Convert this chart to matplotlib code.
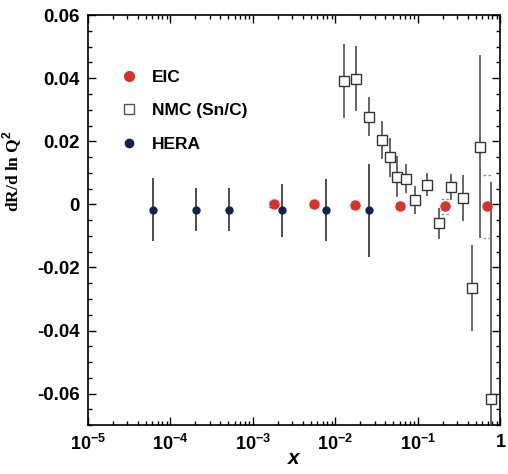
"""dR/d ln Q^2 vs x: EIC projection, NMC (Sn/C) and HERA points."""

import matplotlib

matplotlib.use("Agg")
import matplotlib.pyplot as plt  # noqa: E402
from matplotlib.lines import Line2D  # noqa: E402
from matplotlib.ticker import FixedLocator, LogLocator, MultipleLocator, NullFormatter  # noqa: E402

plt.rcParams["font.family"] = ["Liberation Sans", "DejaVu Sans"]
plt.rcParams["mathtext.fontset"] = "custom"
plt.rcParams["mathtext.rm"] = "Liberation Sans:bold"
plt.rcParams["mathtext.bf"] = "Liberation Sans:bold"

# EIC projection (values ~0, small errors)
eic_x = [1.78e-3, 5.5e-3, 1.73e-2, 6.1e-2, 0.215, 0.68]
eic_y = [0.0, 0.0, -0.0002, -0.0004, -0.0006, -0.0006]
eic_err = [0.0009, 0.0008, 0.0008, 0.0009, 0.0024, 0.010]

# NMC (Sn/C)
nmc_x = [0.0128, 0.0178, 0.0254, 0.0363, 0.0464, 0.0563, 0.0720, 0.0921,
         0.128, 0.178, 0.254, 0.353, 0.452, 0.562, 0.760]
nmc_y = [0.0392, 0.0398, 0.0278, 0.0205, 0.0149, 0.0088, 0.0082, 0.0013,
         0.0063, -0.0060, 0.0054, 0.0019, -0.0265, 0.0183, -0.0616]
nmc_err = [0.0118, 0.0103, 0.0062, 0.0060, 0.0063, 0.0065, 0.0047, 0.0044,
           0.0036, 0.0050, 0.0041, 0.0073, 0.0136, 0.0290, 0.0686]

# HERA
hera_x = [6.1e-5, 2.04e-4, 5.2e-4, 2.28e-3, 7.6e-3, 2.54e-2]
hera_y = [-0.0017, -0.0017, -0.0017, -0.0019, -0.0019, -0.0019]
hera_err = [0.0100, 0.0068, 0.0068, 0.0083, 0.0098, 0.0148]

xtick_vals = [1e-5, 1e-4, 1e-3, 1e-2, 1e-1, 1]
xtick_labels = [r"$\mathbf{10^{-5}}$", r"$\mathbf{10^{-4}}$", r"$\mathbf{10^{-3}}$",
                r"$\mathbf{10^{-2}}$", r"$\mathbf{10^{-1}}$", r"$\mathbf{1}$"]
ytick_vals = [-0.06, -0.04, -0.02, 0, 0.02, 0.04, 0.06]
ytick_labels = ["-0.06", "-0.04", "-0.02", "0", "0.02", "0.04", "0.06"]

RED = "#d8322b"
NAVY = "#15214f"
GRAY = "#4d4d4d"

fig = plt.figure(figsize=(5.08, 4.74), dpi=100)
ax = fig.add_axes([0.173, 0.103, 0.812, 0.865])

# NMC open squares
ax.errorbar(nmc_x, nmc_y, yerr=nmc_err, fmt="s", ms=6.5, mfc="white", mec="#333333",
            mew=1.0, ecolor=GRAY, elinewidth=1.2, capsize=0, zorder=3)
# HERA dots
ax.errorbar(hera_x, hera_y, yerr=hera_err, fmt="o", ms=5, color=NAVY,
            ecolor=GRAY, elinewidth=1.4, capsize=0, zorder=4)
# EIC dots with small dotted bands
for xi, yi, ei in zip(eic_x, eic_y, eic_err):
    c = RED if ei < 0.002 else "#999999"
    ax.hlines([yi - ei, yi + ei], xi / 1.12, xi * 1.12, colors=c,
              linestyles=(0, (2, 1.5)), linewidth=1.0, zorder=4)
ax.plot(eic_x, eic_y, "o", ms=6.5, color=RED, zorder=5, linestyle="none")

ax.set_xscale("log")
ax.set_xlim(1e-5, 1)
ax.set_ylim(-0.07, 0.06)

ax.xaxis.set_major_locator(FixedLocator(xtick_vals))
ax.set_xticklabels(xtick_labels, fontsize=13)
ax.xaxis.set_minor_locator(LogLocator(base=10, subs=range(2, 10), numticks=20))
ax.xaxis.set_minor_formatter(NullFormatter())
ax.yaxis.set_major_locator(FixedLocator(ytick_vals))
ax.set_yticklabels(ytick_labels, fontsize=13.5, fontweight="bold")
ax.yaxis.set_minor_locator(MultipleLocator(0.005))

ax.tick_params(which="both", direction="in", top=True, right=True, width=1.0)
ax.tick_params(which="major", length=6, pad=6)
ax.tick_params(which="minor", length=3)
for s in ax.spines.values():
    s.set_linewidth(1.2)

ax.set_xlabel("x", fontsize=15, fontweight="bold", style="italic", labelpad=-3)
ax.set_ylabel(r"dR/d ln Q$^2$", fontsize=12.5, fontweight="bold",
              family=["Liberation Serif", "DejaVu Serif"])
ax.yaxis.set_label_coords(-0.155, 0.62)

handles = [
    Line2D([], [], marker="o", ls="none", ms=7, color=RED),
    Line2D([], [], marker="s", ls="none", ms=6.5, mfc="white", mec="#555555"),
    Line2D([], [], marker="o", ls="none", ms=6, color=NAVY),
]
ax.legend(handles, ["EIC", "NMC (Sn/C)", "HERA"], loc="upper left",
          bbox_to_anchor=(0.02, 0.905), frameon=False, handletextpad=0.3,
          labelspacing=1.05, prop={"weight": "bold", "size": 12.5})

fig.savefig("out.png", dpi=100)
